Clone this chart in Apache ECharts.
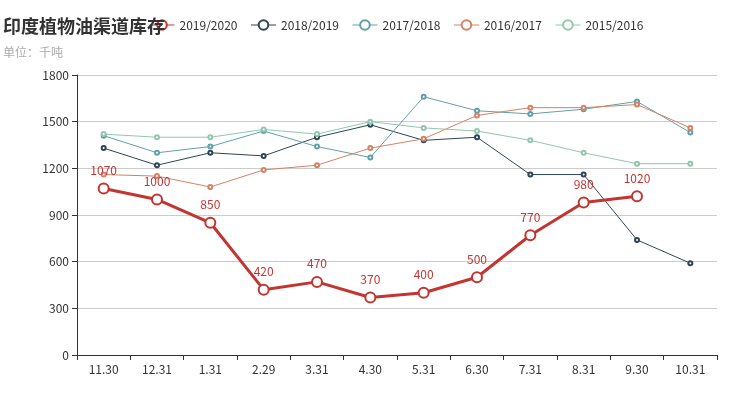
<!DOCTYPE html>
<html>
<head>
<meta charset="utf-8">
<script src="https://cdn.jsdelivr.net/npm/echarts@6/dist/echarts.min.js"></script>
<style>
html, body { margin: 0; padding: 0; background: #fff; }
#main { width: 730px; height: 396px; }
</style>
</head>
<body>
<div id="main"></div>
<script>
var categories = ['11.30', '12.31', '1.31', '2.29', '3.31', '4.30', '5.31', '6.30', '7.31', '8.31', '9.30', '10.31'];
var seasons = ['2019/2020', '2018/2019', '2017/2018', '2016/2017', '2015/2016'];
var s2019 = [1070, 1000, 850, 420, 470, 370, 400, 500, 770, 980, 1020];
var s2018 = [1330, 1220, 1300, 1280, 1400, 1480, 1380, 1400, 1160, 1160, 740, 590];
var s2017 = [1410, 1300, 1340, 1440, 1340, 1270, 1660, 1570, 1550, 1580, 1630, 1430];
var s2016 = [1160, 1150, 1080, 1190, 1220, 1330, 1390, 1540, 1590, 1590, 1610, 1460];
var s2015 = [1420, 1400, 1400, 1450, 1420, 1500, 1460, 1440, 1380, 1300, 1230, 1230];

var colors = ['#c23531', '#2f4554', '#61a0a8', '#d48265', '#91c7ae'];
var fontFamily = '"Noto Sans CJK SC", "Noto Sans", sans-serif';

var myChart = echarts.init(document.getElementById('main'));

function thinLine(name, data) {
    return {
        name: name,
        type: 'line',
        data: data,
        symbol: 'emptyCircle',
        symbolSize: 4,
        lineStyle: { width: 1 }
    };
}

var option = {
    color: colors,
    textStyle: { fontFamily: fontFamily },
    animation: false,
    title: {
        text: '印度植物油渠道库存',
        subtext: '单位：千吨',
        left: -2,
        top: 12,
        itemGap: 11,
        z: 10,
        textStyle: { fontSize: 18, fontWeight: 'bold', color: '#333', fontFamily: fontFamily },
        subtextStyle: { fontSize: 12, color: '#aaa', fontFamily: fontFamily }
    },
    legend: {
        data: seasons,
        left: 144,
        top: 14,
        itemGap: 13,
        itemWidth: 25,
        itemHeight: 12,
        lineStyle: { width: 1 },
        textStyle: { fontSize: 12, color: '#333' }
    },
    grid: { left: 77, right: 13, top: 75, bottom: 41 },
    xAxis: {
        type: 'category',
        data: categories,
        axisLine: { lineStyle: { color: '#333' } },
        axisTick: { show: true, lineStyle: { color: '#333' } },
        axisLabel: { color: '#333', fontSize: 12, margin: 8 }
    },
    yAxis: {
        type: 'value',
        min: 0,
        max: 1800,
        interval: 300,
        axisLine: { show: true, lineStyle: { color: '#333' } },
        axisTick: { show: true, lineStyle: { color: '#333' } },
        axisLabel: {
            color: '#333',
            fontSize: 12,
            formatter: function (v) { return String(v); }
        },
        splitLine: { lineStyle: { color: '#ccc' } }
    },
    series: [
        {
            name: seasons[0],
            type: 'line',
            data: s2019,
            z: 10,
            symbol: 'emptyCircle',
            symbolSize: 10,
            lineStyle: { width: 3 },
            label: { show: true, position: 'top', color: '#c23531', fontSize: 12, distance: 6 }
        },
        thinLine(seasons[1], s2018),
        thinLine(seasons[2], s2017),
        thinLine(seasons[3], s2016),
        thinLine(seasons[4], s2015)
    ]
};

myChart.setOption(option);
</script>
</body>
</html>
